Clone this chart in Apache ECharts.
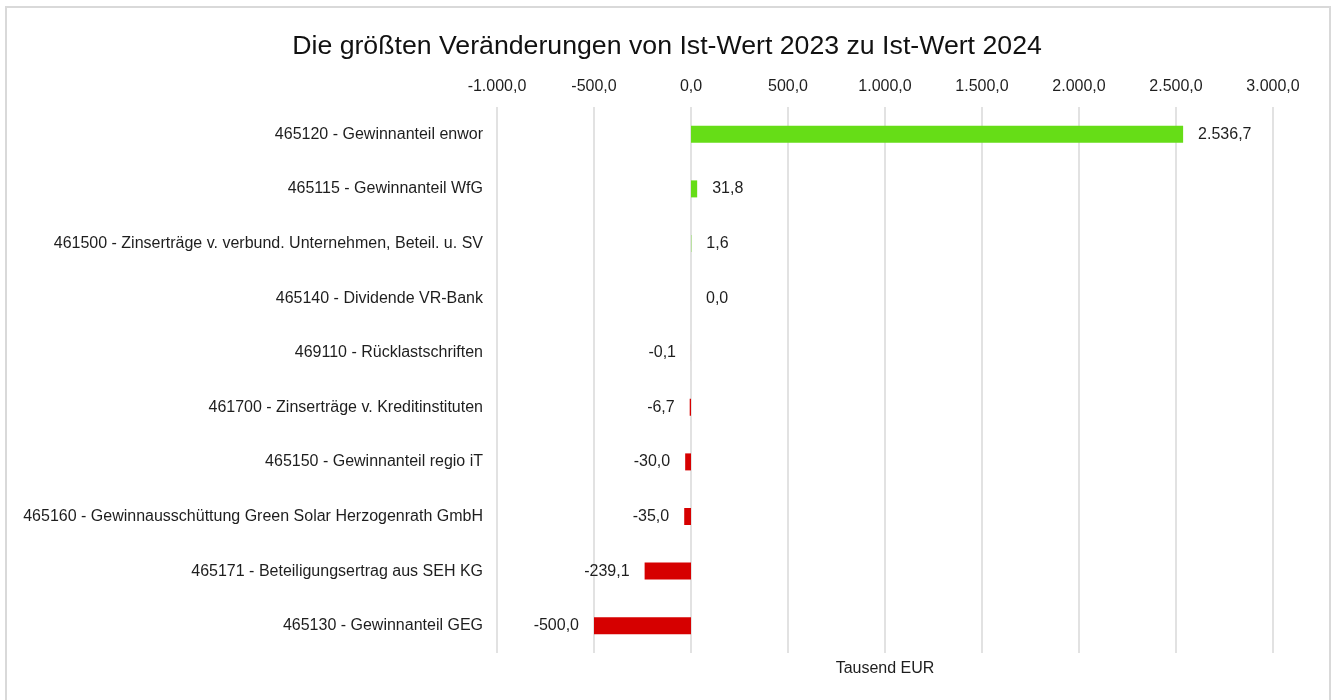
<!DOCTYPE html>
<html>
<head>
<meta charset="utf-8">
<script src="https://cdn.jsdelivr.net/npm/echarts@6/dist/echarts.min.js"></script>
<style>
  html, body { margin: 0; padding: 0; background: #fff; }
  #chart { width: 1334px; height: 700px; }
  .frame {
    position: absolute; left: 5px; top: 6px; width: 1322px; height: 700px;
    border: 2px solid #d9d9d9; pointer-events: none;
  }
</style>
</head>
<body>
<div id="chart"></div>
<div class="frame"></div>
<script>
// Kategorien und Werte (Tausend EUR)
const categories = [
  '465120 - Gewinnanteil enwor',
  '465115 - Gewinnanteil WfG',
  '461500 - Zinserträge v. verbund. Unternehmen, Beteil. u. SV',
  '465140 - Dividende VR-Bank',
  '469110 - Rücklastschriften',
  '461700 - Zinserträge v. Kreditinstituten',
  '465150 - Gewinnanteil regio iT',
  '465160 - Gewinnausschüttung Green Solar Herzogenrath GmbH',
  '465171 - Beteiligungsertrag aus SEH KG',
  '465130 - Gewinnanteil GEG'
]
const values = [2536.7, 31.8, 1.6, 0.0, -0.1, -6.7, -30.0, -35.0, -239.1, -500.0]
const xMin = -1000
const xMax = 3000
const xStep = 500

const font = 'Liberation Sans, Arial, sans-serif'

// deutsches Zahlenformat: 2.536,7
const fmt = (v) => {
  const s = Math.abs(v).toFixed(1).split('.')
  const int = s[0].replace(/\B(?=(\d{3})+(?!\d))/g, '.')
  return (v < 0 ? '-' : '') + int + ',' + s[1]
}

const chart = echarts.init(document.getElementById('chart'))

const option = {
  backgroundColor: '#ffffff',
  animation: false,
  title: {
    text: 'Die größten Veränderungen von Ist-Wert 2023 zu Ist-Wert 2024',
    left: 'center',
    top: 28,
    textStyle: { fontFamily: font, fontSize: 26.7, fontWeight: 'normal', color: '#111' }
  },
  grid: { left: 497, right: 61, top: 107, bottom: 47, containLabel: false },
  xAxis: [
    {
      type: 'value',
      position: 'top',
      min: xMin,
      max: xMax,
      interval: xStep,
      axisLine: { show: false },
      axisTick: { show: false },
      axisLabel: {
        margin: 12,
        fontFamily: font,
        fontSize: 16,
        color: '#1e1e1e',
        formatter: (v) => fmt(v)
      },
      splitLine: { lineStyle: { color: '#d9d9d9', width: 1.5 } }
    },
    {
      type: 'value',
      position: 'bottom',
      min: xMin,
      max: xMax,
      interval: xStep,
      axisLine: { show: false },
      axisTick: { show: false },
      axisLabel: { show: false },
      splitLine: { show: false },
      name: 'Tausend EUR',
      nameLocation: 'middle',
      nameGap: 8,
      nameTextStyle: { fontFamily: font, fontSize: 16, color: '#1e1e1e' }
    }
  ],
  yAxis: {
    type: 'category',
    inverse: true,
    data: categories,
    axisLine: { show: false },
    axisTick: { show: false },
    axisLabel: { margin: 14, fontFamily: font, fontSize: 16, color: '#1e1e1e' }
  },
  series: [
    {
      type: 'bar',
      xAxisIndex: 0,
      barWidth: 17,
      data: values.map(v => ({
        value: v,
        itemStyle: { color: v < 0 ? '#d60000' : '#66dd17' },
        label: { position: v < 0 ? 'left' : 'right' }
      })),
      label: {
        show: true,
        distance: 15,
        fontFamily: font,
        fontSize: 16,
        color: '#1e1e1e',
        formatter: (p) => fmt(p.value)
      }
    }
  ]
}

chart.setOption(option)
</script>
</body>
</html>
